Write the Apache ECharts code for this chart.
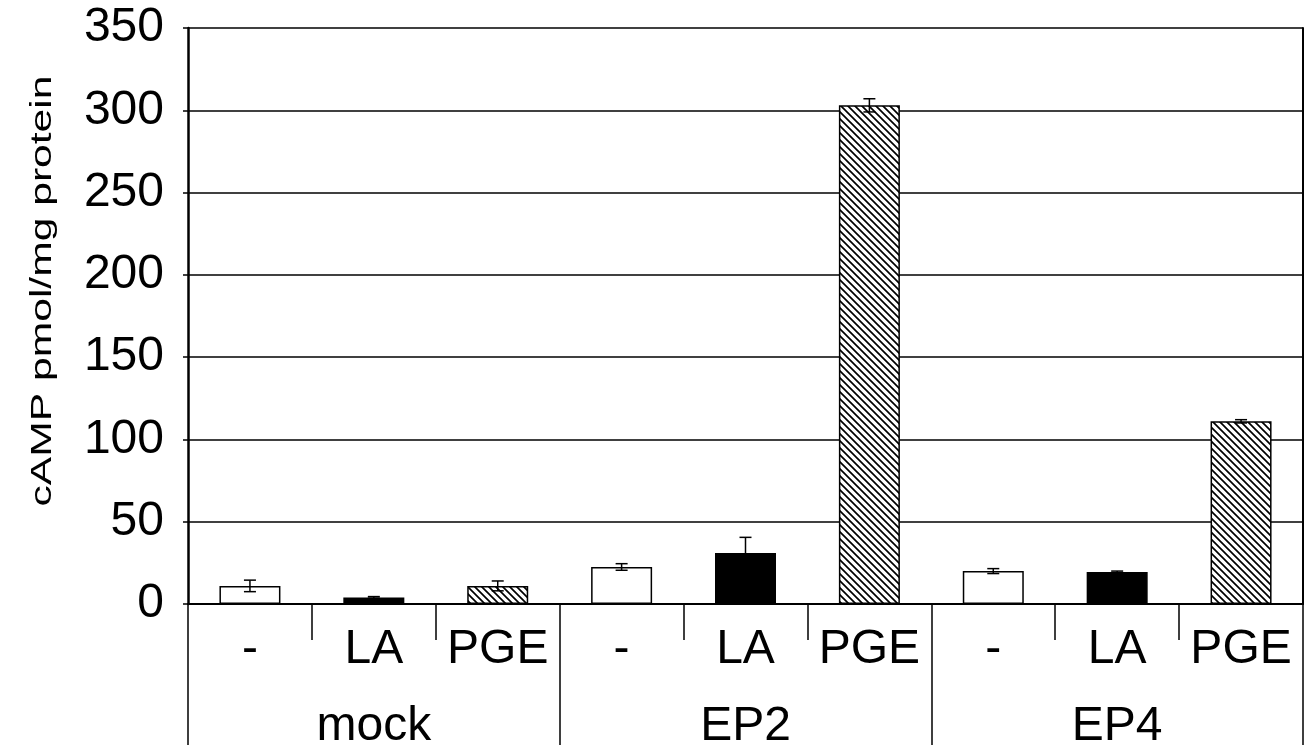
<!DOCTYPE html>
<html>
<head>
<meta charset="utf-8">
<script src="https://cdn.jsdelivr.net/npm/echarts@6/dist/echarts.min.js"></script>
<style>
html,body{margin:0;padding:0;background:#fff;}
#chart{width:1311px;height:751px;}
</style>
</head>
<body>
<div id="chart"></div>
<script>
// ---- data ----
const treatments = ['-', 'LA', 'PGE', '-', 'LA', 'PGE', '-', 'LA', 'PGE'];
const groups = ['mock', 'EP2', 'EP4'];
const camp = [11, 4, 11, 22.5, 31, 303, 20, 19.5, 111];
const campSd = [3.5, 0.5, 3, 2, 9.5, 4, 1.5, 0.5, 1];
const barKinds = ['open', 'solid', 'hatch', 'open', 'solid', 'hatch', 'open', 'solid', 'hatch'];
const yTicks = { min: 0, max: 350, interval: 50 };
const yTitle = 'cAMP pmol/mg protein';

// hatch pattern
function makeHatch() {
  const s = 7;
  const c = document.createElement('canvas');
  c.width = s; c.height = s;
  const g = c.getContext('2d');
  g.fillStyle = '#fff';
  g.fillRect(0, 0, s, s);
  g.strokeStyle = '#000';
  g.lineWidth = 1.7;
  g.beginPath();
  g.moveTo(0, 0); g.lineTo(s, s);
  g.moveTo(-2, s - 2); g.lineTo(2, s + 2);
  g.moveTo(s - 2, -2); g.lineTo(s + 2, 2);
  g.stroke();
  return c;
}
const hatch = { image: makeHatch(), repeat: 'repeat' };

function styleFor(kind) {
  if (kind === 'solid') return { color: '#000', borderColor: '#000', borderWidth: 1.5 };
  if (kind === 'hatch') return { color: hatch, borderColor: '#000', borderWidth: 1.5 };
  return { color: '#fff', borderColor: '#000', borderWidth: 1.5 };
}

const barData = camp.map((v, i) => ({ value: v, itemStyle: styleFor(barKinds[i]) }));
const errData = camp.map((v, i) => [i, v - campSd[i], v + campSd[i]]);

const FONT = "'Liberation Sans', Arial, sans-serif";
const chart = echarts.init(document.getElementById('chart'), null, { renderer: 'canvas' });

chart.setOption({
  animation: false,
  backgroundColor: '#fff',
  grid: { left: 188, right: 8, top: 28, bottom: 147 },
  xAxis: [
    {
      type: 'category',
      data: treatments,
      position: 'bottom',
      boundaryGap: true,
      axisLine: { show: true, lineStyle: { color: '#000', width: 2 } },
      axisTick: { show: true, interval: 0, length: 36, lineStyle: { color: '#000', width: 1.5 } },
      axisLabel: { interval: 0, margin: 22, color: '#000', fontSize: 48, fontFamily: FONT },
      splitLine: { show: false }
    },
    {
      type: 'category',
      data: groups,
      position: 'bottom',
      boundaryGap: true,
      axisLine: { show: false },
      axisTick: { show: true, interval: 0, length: 141, lineStyle: { color: '#000', width: 1.5 } },
      axisLabel: { interval: 0, margin: 99, color: '#000', fontSize: 48, fontFamily: FONT },
      splitLine: { show: false }
    }
  ],
  yAxis: [
    {
      type: 'value',
      min: yTicks.min, max: yTicks.max, interval: yTicks.interval,
      axisLine: { show: true, lineStyle: { color: '#000', width: 2.5 } },
      axisTick: { show: true, length: 5, inside: false, lineStyle: { color: '#000', width: 1.5 } },
      axisLabel: { margin: 24, color: '#000', fontSize: 48, fontFamily: FONT },
      splitLine: { show: true, lineStyle: { color: '#000', width: 1.5 } }
    },
    {
      type: 'value',
      position: 'right',
      min: yTicks.min, max: yTicks.max, interval: yTicks.interval,
      axisLine: { show: true, lineStyle: { color: '#000', width: 2 } },
      axisTick: { show: false },
      axisLabel: { show: false },
      splitLine: { show: false }
    }
  ],
  graphic: [
    {
      type: 'text',
      x: 43, y: 291,
      rotation: Math.PI / 2,
      scaleX: 1.42,
      style: {
        text: yTitle,
        fontSize: 30,
        fontFamily: FONT,
        fill: '#000',
        align: 'center',
        verticalAlign: 'middle'
      }
    }
  ],
  series: [
    {
      type: 'bar',
      xAxisIndex: 0,
      yAxisIndex: 0,
      barWidth: 61,
      data: barData
    },
    {
      type: 'custom',
      xAxisIndex: 0,
      yAxisIndex: 0,
      data: errData,
      encode: { x: 0, y: [1, 2] },
      z: 5,
      renderItem: function (params, api) {
        const x = api.value(0);
        const lo = api.coord([x, api.value(1)]);
        const hi = api.coord([x, api.value(2)]);
        const hw = 6;
        const st = { stroke: '#000', lineWidth: 1.5 };
        return {
          type: 'group',
          children: [
            { type: 'line', shape: { x1: hi[0], y1: hi[1], x2: lo[0], y2: lo[1] }, style: st },
            { type: 'line', shape: { x1: hi[0] - hw, y1: hi[1], x2: hi[0] + hw, y2: hi[1] }, style: st },
            { type: 'line', shape: { x1: lo[0] - hw, y1: lo[1], x2: lo[0] + hw, y2: lo[1] }, style: st }
          ]
        };
      }
    }
  ]
});
</script>
</body>
</html>
